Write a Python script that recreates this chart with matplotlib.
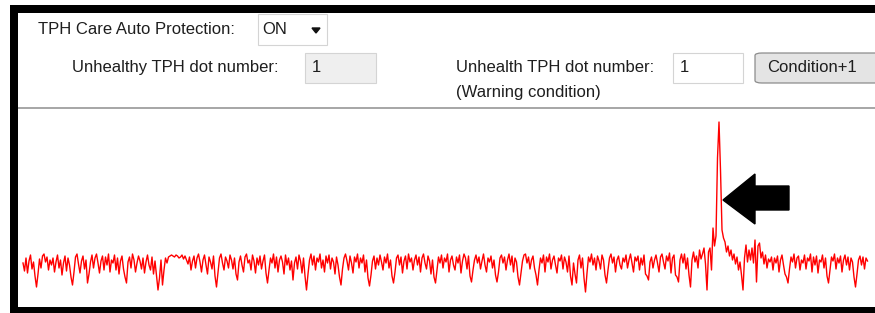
import matplotlib
matplotlib.use("Agg")
import matplotlib.pyplot as plt
from matplotlib.patches import Rectangle, Polygon, FancyBboxPatch

# TPH signal (one sample about every 1.5 px, 0 = baseline)
tph_signal = [
    3, -5, 8, -7, 5, 11, -3, 4, -10, -21, -8, 7, -2, 10, 12, 4, 9, -4, 6, 1,
    8, -6, 4, 11, -2, 6, -9, 3, 10, -5, 8, 1, -11, -19, -6, 9, 12, 2, -7, 5,
    10, -3, 6, -17, -8, 4, 11, -2, 8, 12, 3, -7, 5, 10, -4, 9, 1, 12, -6, 6,
    3, 11, -4, 8, -8, 5, 10, -3, -11, -17, 4, 9, -2, 12, 6, -6, 3, 10, 5, -3,
    8, -7, 4, 11, 1, -4, 9, -8, 5, -10, -24, -12, 6, -19, -4, 8, 3, 9, 10, 11,
    10, 9, 11, 10, 8, 9, 11, 7, 10, 6, 2, 9, -4, 5, 10, -2, 8, 12, 4, -6,
    6, 11, 1, -8, 9, 4, -3, 10, -10, -21, -7, 8, 12, 3, -4, 9, 5, -2, 11, 6,
    -3, 8, -8, -14, 4, 10, 1, -6, 9, 12, 3, 6, -4, 11, 5, -7, 8, 1, 10, -3,
    5, 11, -7, -17, -4, 8, 3, 12, -2, 9, -6, 6, 10, 4, -8, 11, 1, 8, -4, 5,
    -14, 3, 9, -3, 11, 5, -7, 8, -10, -24, -8, 6, 12, 1, 10, -4, 8, 4, 12, -2,
    6, -6, 10, 3, 11, -3, 8, 4, -8, 9, 1, -11, -19, -3, 8, 12, 5, -4, 10, 3,
    -7, 9, 4, 12, -2, 8, 3, 11, -6, 6, -12, -20, -9, 5, 10, -3, 8, 1, 11, 4,
    -4, 9, 3, 12, -2, 6, -10, -17, -6, 8, 11, 1, 9, -7, 5, 10, -3, 12, 4, 8,
    -4, 6, 11, 1, 9, -6, 8, 12, 3, -3, 10, 5, -8, 6, -11, -17, -4, 9, 3, 11,
    -2, 8, 4, 12, -6, 6, 10, 1, -4, 9, 3, 11, -7, 5, 12, 8, -3, 10, -10, -16,
    -4, 6, 11, 3, 9, -3, 5, 12, 1, -6, 8, 4, 10, -2, 6, -9, -16, -6, 8, 11,
    3, 9, -4, 6, 12, 1, 10, -6, 8, 4, -11, -19, -7, 5, 11, 12, 3, 9, -3, 6,
    10, -2, -9, -19, -4, 8, 3, 11, -6, 9, 4, 12, -3, 6, 10, 1, -7, 8, 5, 11,
    -3, 9, 4, -6, 10, -10, -19, 3, -8, -17, 6, 11, -2, 8, -12, -26, -7, 9, 4, 12,
    1, 8, -4, 10, 5, -3, 11, 6, -9, -17, -4, 8, 12, 3, 9, -6, 6, 10, 1, -3,
    8, 4, 11, -2, 6, 12, 3, -6, 9, 5, 10, -4, 8, 1, 11, -8, -10, -14, 4, 9,
    -2, 6, 11, 3, -6, 9, 12, 4, -3, 10, 5, 13, -7, 8, 11, -9, -11, -16, 6, 12,
    3, 12, -3, 8, -9, -21, 6, 14, 4, 10, -2, 16, 7, 12, 18, 2, -24, 14, 18, -4,
    38, 20, 30, 108, 144, 96, 36, 28, 24, 14, 20, 10, 16, 6, 12, 2, 9, -4, 4, -9,
    -24, 8, 21, 4, 16, 6, 18, 3, 26, -16, 20, 23, 8, 14, 2, 11, -2, 7, 4, 9,
    -4, 8, 3, 10, -6, 6, 11, 1, -8, -11, -17, -3, 9, 4, 12, -2, 8, 10, -4, 6,
    3, 11, -3, 8, 5, 12, -6, 9, 1, 10, -7, 6, 4, 11, -2, 8, -10, -17, -4, 9,
    5, 12, -3, 8, 3, 10, -6, 6, 11, 1, 9, -4, 8, 4, -11, -21, -8, 6, 10, 1,
    9, -3, 8, 5,
]

protection_state = "ON"
unhealthy_dots = "1"
warning_dots = "1"

W, H = 875, 313


def fx(x):
    return x / W


def fy(y):
    return 1 - y / H


def box(fig, x0, y0, x1, y1, **kw):
    r = Rectangle((fx(x0), fy(y1)), (x1 - x0) / W, (y1 - y0) / H,
                  transform=fig.transFigure, **kw)
    fig.add_artist(r)
    return r


plt.rcParams['font.family'] = ['Liberation Sans', 'DejaVu Sans']
fig = plt.figure(figsize=(W / 100, H / 100), dpi=100)
fig.patch.set_facecolor('white')

# signal plot
ax = fig.add_axes([fx(18), fy(306), (875 - 18) / W, (306 - 110) / H])
ax.plot(range(len(tph_signal)), tph_signal, color='#ff0000', lw=1.0)
ax.set_xlim((18 - 23) / 1.5, (875 - 23) / 1.5)
ax.set_ylim(-40, 156)
ax.axis('off')

# black frame of the screenshot
box(fig, 10, 5, 875, 13, color='black', lw=0)
box(fig, 10, 5, 18, 313, color='black', lw=0)
box(fig, 10, 307, 875, 313, color='black', lw=0)

# separator
box(fig, 18, 107, 875, 109, color='#a8a8a8', lw=0)

tc = '#1e1e1e'
fs = 12
fig.text(fx(38), fy(29), "TPH Care Auto Protection:", fontsize=fs, color=tc, va='center')
box(fig, 258, 14, 327, 45, facecolor='white', edgecolor='#d4d4d4', lw=0.8)
fig.text(fx(262), fy(29), protection_state, fontsize=fs, color=tc, va='center')
fig.add_artist(Polygon([(fx(312), fy(28)), (fx(320), fy(28)), (fx(316), fy(33))],
                       closed=True, color='#111111', transform=fig.transFigure))

fig.text(fx(72), fy(68), "Unhealthy TPH dot number:", fontsize=fs, color=tc, va='center')
box(fig, 305, 53, 376, 83, facecolor='#efefef', edgecolor='#d4d4d4', lw=0.8)
fig.text(fx(312), fy(68), unhealthy_dots, fontsize=fs, color=tc, va='center')

fig.text(fx(456), fy(68), "Unhealth TPH dot number:", fontsize=fs, color=tc, va='center')
fig.text(fx(456), fy(92), "(Warning condition)", fontsize=fs, color=tc, va='center')
box(fig, 673, 53, 743, 83, facecolor='white', edgecolor='#d4d4d4', lw=0.8)
fig.text(fx(680), fy(68), warning_dots, fontsize=fs, color=tc, va='center')

btn = FancyBboxPatch((fx(755), fy(83)), (890 - 755) / W, 30 / H,
                     boxstyle="round,pad=0,rounding_size=0.008",
                     transform=fig.transFigure, facecolor='#e4e4e4',
                     edgecolor='#8c8c8c', lw=0.9)
fig.add_artist(btn)
fig.text(fx(767), fy(68), "Condition+1", fontsize=fs, color=tc, va='center')

# arrow pointing at the spike
arrow_px = [(723, 200), (755, 174), (755, 186), (789, 186),
            (789, 210), (755, 210), (755, 224)]
fig.add_artist(Polygon([(fx(x), fy(y)) for x, y in arrow_px], closed=True,
                       color='black', transform=fig.transFigure))

fig.savefig('out.png', dpi=100)
